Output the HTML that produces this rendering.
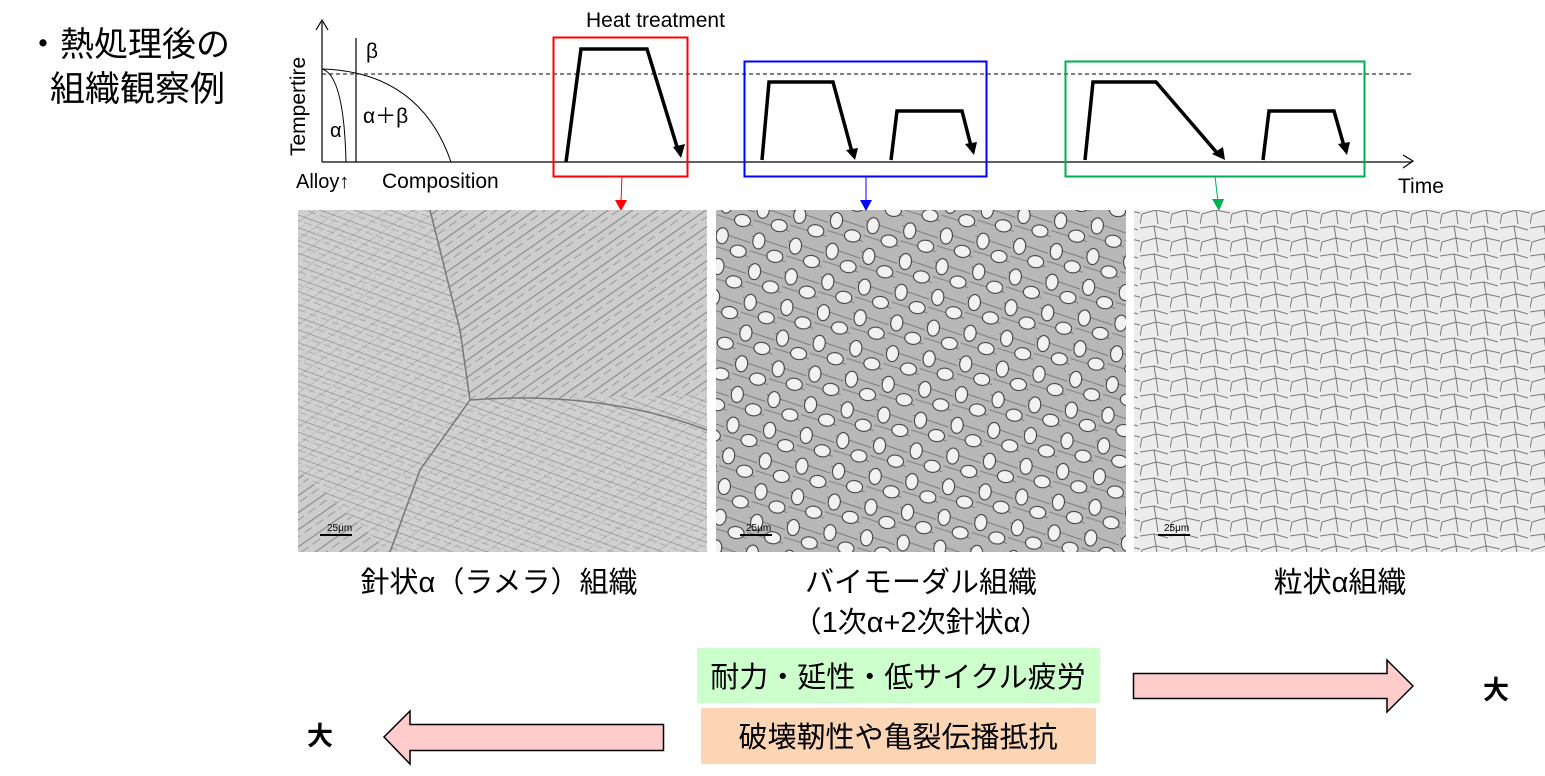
<!DOCTYPE html>
<html><head><meta charset="utf-8"><style>
html,body{margin:0;padding:0;background:#fff;width:1545px;height:776px;overflow:hidden}
svg{display:block}
text{font-family:"Liberation Sans","Noto Sans CJK JP",sans-serif}
</style></head><body>
<svg width="1545" height="776" viewBox="0 0 1545 776" xmlns="http://www.w3.org/2000/svg">
<defs>
<pattern id="p1" width="14" height="14" patternUnits="userSpaceOnUse" patternTransform="rotate(-35)">
<rect width="14" height="14" fill="#cdcdcd"/>
<line x1="0" y1="3" x2="14" y2="3" stroke="#8c8c8c" stroke-width="1.2"/>
<line x1="0" y1="9" x2="9" y2="9" stroke="#9a9a9a" stroke-width="1"/>
</pattern>
<pattern id="p1b" width="12" height="12" patternUnits="userSpaceOnUse" patternTransform="rotate(20)">
<rect width="12" height="12" fill="#d2d2d2"/>
<line x1="0" y1="4" x2="12" y2="4" stroke="#909090" stroke-width="1"/>
<line x1="2" y1="9" x2="10" y2="9" stroke="#a0a0a0" stroke-width="1"/>
</pattern>
<pattern id="p2" width="37" height="31" patternUnits="userSpaceOnUse" patternTransform="rotate(8)">
<rect width="37" height="31" fill="#b8b8b8"/>
<line x1="0" y1="5" x2="37" y2="12" stroke="#7a7a7a" stroke-width="1"/>
<line x1="0" y1="20" x2="37" y2="26" stroke="#808080" stroke-width="1"/>
<ellipse cx="8" cy="9" rx="6" ry="8" fill="#f2f2f2" stroke="#333" stroke-width="1"/>
<ellipse cx="26" cy="22" rx="8" ry="6" fill="#f2f2f2" stroke="#333" stroke-width="1"/>
</pattern>
<pattern id="p3" width="30" height="28" patternUnits="userSpaceOnUse">
<rect width="30" height="28" fill="#ececec"/>
<path d="M0,4 L14,2 L28,6 M14,2 L16,14 L2,18 M16,14 L30,17 M2,18 L0,28 M16,14 L18,28" fill="none" stroke="#7a7a7a" stroke-width="1"/>
</pattern>
</defs>

<!-- title -->
<text x="26" y="56" font-size="34">・熱処理後の</text>
<text x="50" y="101" font-size="35">組織観察例</text>

<!-- phase diagram -->
<line x1="322" y1="162" x2="322" y2="22" stroke="#000" stroke-width="1.2"/>
<path d="M316,30 L322,20 L328,30" fill="none" stroke="#000" stroke-width="1.2"/>
<line x1="356" y1="38" x2="356" y2="162" stroke="#000" stroke-width="1.2"/>
<path d="M322,69 Q344,75 346,162" fill="none" stroke="#000" stroke-width="1"/>
<path d="M322,69 Q420,72 451,162" fill="none" stroke="#000" stroke-width="1"/>
<line x1="322" y1="74" x2="1412" y2="74" stroke="#000" stroke-width="1" stroke-dasharray="4,3"/>
<line x1="322" y1="162" x2="1412" y2="162" stroke="#000" stroke-width="1.2"/>
<path d="M1403,155 L1413,161 L1403,168" fill="none" stroke="#000" stroke-width="1.2"/>
<text x="366" y="58" font-size="21">β</text>
<text x="330" y="137" font-size="20">α</text>
<text x="363" y="123" font-size="21">α＋β</text>
<text transform="translate(305,156) rotate(-90)" font-size="21">Tempertire</text>
<text x="296" y="188" font-size="20">Alloy↑</text>
<text x="382" y="188" font-size="21">Composition</text>
<text x="586" y="27" font-size="21">Heat treatment</text>
<text x="1398" y="193" font-size="21">Time</text>

<!-- boxes -->
<rect x="553.5" y="37.5" width="134" height="139" fill="none" stroke="#ff0000" stroke-width="2"/>
<rect x="744.5" y="61.5" width="242" height="115" fill="none" stroke="#0000ff" stroke-width="2"/>
<rect x="1065.5" y="61.5" width="299" height="115" fill="none" stroke="#00b050" stroke-width="2"/>

<!-- profiles -->
<g fill="none" stroke="#000" stroke-width="3.5" stroke-linejoin="miter">
<path d="M566,162 L581,49 L647,49 L678,150"/>
<path d="M762,160 L769,82 L833,82 L852,152"/>
<path d="M891,160 L897,111 L962,111 L971,146"/>
<path d="M1085,160 L1093,82 L1156,82 L1218,154"/>
<path d="M1263,160 L1269,111 L1334,111 L1344,146"/>
</g>
<g fill="#000">
<path d="M673,147 L685,144 L681,158 z"/>
<path d="M846,150 L858,148 L855,160 z"/>
<path d="M965,144 L977,142 L974,155 z"/>
<path d="M1212,154 L1223,147 L1225,160 z"/>
<path d="M1338,144 L1350,142 L1347,155 z"/>
</g>

<!-- connectors -->
<line x1="622" y1="176" x2="621" y2="202" stroke="#ff0000" stroke-width="1"/>
<path d="M615,200 L627,200 L621,211 z" fill="#ff0000"/>
<line x1="866" y1="176" x2="866" y2="202" stroke="#0000ff" stroke-width="1"/>
<path d="M860,200 L872,200 L866,211 z" fill="#0000ff"/>
<line x1="1215" y1="176" x2="1218" y2="202" stroke="#00b050" stroke-width="1"/>
<path d="M1212,199 L1224,199 L1219,211 z" fill="#00b050"/>

<!-- photos -->
<rect x="298" y="210" width="409" height="342" fill="url(#p1)"/>
<path d="M430,210 L460,330 L470,400 L707,395 L707,552 L390,552 L298,470 L298,210 z" fill="url(#p1b)" opacity="0.7"/>
<path d="M430,210 L460,330 L470,400 L420,470 L390,552" fill="none" stroke="#777" stroke-width="1.5"/>
<path d="M470,400 Q600,390 707,430" fill="none" stroke="#777" stroke-width="1.5"/>
<rect x="716" y="210" width="410" height="342" fill="url(#p2)"/>
<rect x="1134" y="210" width="411" height="342" fill="url(#p3)"/>
<g stroke="#000" stroke-width="2"><line x1="320" y1="535" x2="352" y2="535"/><line x1="740" y1="535" x2="772" y2="535"/><line x1="1158" y1="535" x2="1190" y2="535"/></g>
<g font-size="10" fill="#000"><text x="327" y="531">25μm</text><text x="746" y="531">25μm</text><text x="1164" y="531">25μm</text></g>

<!-- captions -->
<text x="499" y="592" font-size="29" text-anchor="middle">針状α（ラメラ）組織</text>
<text x="921" y="592" font-size="29" text-anchor="middle">バイモーダル組織</text>
<text x="921" y="632" font-size="29" text-anchor="middle">（1次α+2次針状α）</text>
<text x="1340" y="592" font-size="29" text-anchor="middle">粒状α組織</text>

<!-- property boxes -->
<rect x="697" y="648" width="403" height="55" fill="#ccffcc"/>
<text x="898" y="687" font-size="29" text-anchor="middle">耐力・延性・低サイクル疲労</text>
<rect x="701" y="708" width="395" height="56" fill="#fcd5b4"/>
<text x="898" y="747" font-size="29" text-anchor="middle">破壊靭性や亀裂伝播抵抗</text>

<!-- big arrows -->
<path d="M1133.5,673.5 L1387,673.5 L1387,660 L1413,686 L1387,712 L1387,698.5 L1133.5,698.5 z" fill="#ffcccc" stroke="#000" stroke-width="1.5"/>
<path d="M663.5,724.5 L410,724.5 L410,711 L384,737 L410,764 L410,750.5 L663.5,750.5 z" fill="#ffcccc" stroke="#000" stroke-width="1.5"/>
<text x="1496" y="699" font-size="26" font-weight="bold" text-anchor="middle">大</text>
<text x="320" y="745" font-size="26" font-weight="bold" text-anchor="middle">大</text>
</svg>
</body></html>
